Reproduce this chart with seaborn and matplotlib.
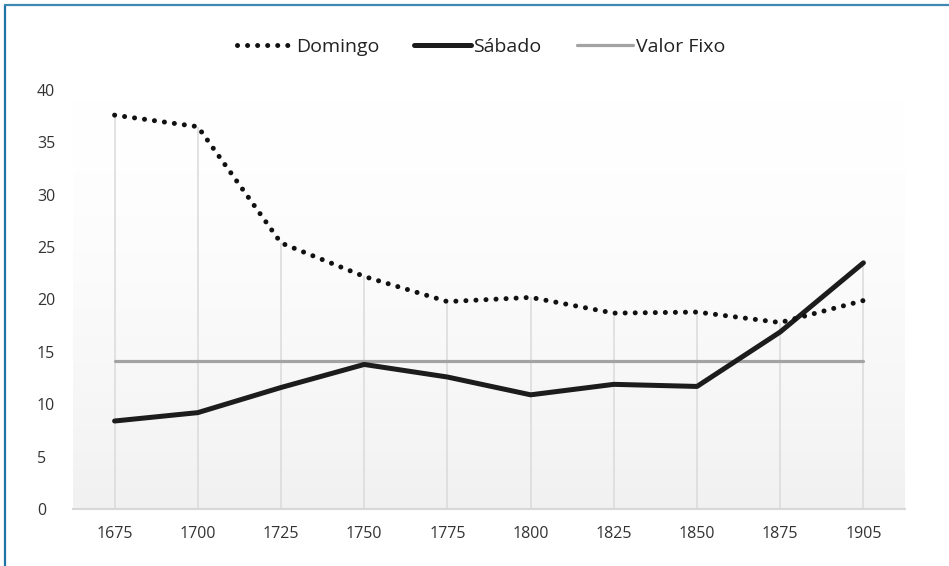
import numpy as np
import pandas as pd
import matplotlib
matplotlib.use("Agg")
import matplotlib.pyplot as plt
from matplotlib.lines import Line2D
import seaborn as sns

anos = ["1675", "1700", "1725", "1750", "1775", "1800", "1825", "1850", "1875", "1905"]
domingo = [37.6, 36.5, 25.4, 22.2, 19.8, 20.2, 18.7, 18.8, 17.8, 19.9]
sabado = [8.4, 9.2, 11.6, 13.8, 12.6, 10.9, 11.9, 11.7, 16.9, 23.5]
valor_fixo = [14.1] * len(anos)
y_ticks = [0, 5, 10, 15, 20, 25, 30, 35, 40]

sns.set_theme(style="white")
plt.rcParams["font.family"] = ["Open Sans", "DejaVu Sans"]

df = pd.DataFrame({"x": np.arange(len(anos)), "Domingo": domingo,
                   "Sábado": sabado, "Valor Fixo": valor_fixo})

DOTS = (0.01, 2.0)

fig = plt.figure(figsize=(9.49, 5.66), dpi=100)
fig.patch.set_facecolor("white")
ax = fig.add_axes([73 / 949, 1 - 509 / 566, (905 - 73) / 949, (509 - 90) / 566])
ax.set_facecolor("white")

# subtle background gradient
grad = np.linspace(0, 1, 256).reshape(-1, 1) ** 1.6
cmap = matplotlib.colors.LinearSegmentedColormap.from_list("g", ["#ffffff", "#f1f1f1"])
ax.imshow(grad, extent=[-0.5, 9.5, 0, 40], aspect="auto", cmap=cmap,
          origin="upper", zorder=0, vmin=0, vmax=1)

# vertical drop lines
tops = np.maximum(domingo, sabado)
ax.vlines(df["x"], 0, tops, color="#dadada", lw=1.1, zorder=1)

sns.lineplot(data=df, x="x", y="Valor Fixo", ax=ax, color="#a3a3a3", lw=2.3,
             zorder=2, label="Valor Fixo")
sns.lineplot(data=df, x="x", y="Sábado", ax=ax, color="#1c1c1c", lw=3.6,
             zorder=3, label="Sábado")
sns.lineplot(data=df, x="x", y="Domingo", ax=ax, color="#111111", lw=3.6,
             zorder=4, label="Domingo")
dom_line = ax.get_lines()[-1]
dom_line.set_dashes(DOTS)
dom_line.set_dash_capstyle("round")

ax.set_xlim(-0.5, 9.5)
ax.set_ylim(0, 40)
ax.set_xticks(df["x"])
ax.set_xticklabels(anos)
ax.set_yticks(y_ticks)
ax.set_xlabel("")
ax.set_ylabel("")
ax.tick_params(axis="both", length=0, labelsize=11.5, colors="#333333")
ax.tick_params(axis="x", pad=12)
ax.tick_params(axis="y", pad=26)
for lab in ax.get_yticklabels():
    lab.set_horizontalalignment("left")
for s in ["top", "right", "left"]:
    ax.spines[s].set_visible(False)
ax.spines["bottom"].set_color("#d8d8d8")
ax.spines["bottom"].set_linewidth(1.5)

h, l = ax.get_legend_handles_labels()
order = [l.index("Domingo"), l.index("Sábado"), l.index("Valor Fixo")]
leg = ax.legend([h[i] for i in order], [l[i] for i in order], loc="center",
                bbox_to_anchor=(481 / 949, 1 - 47 / 566), bbox_transform=fig.transFigure,
                ncol=3, frameon=False, fontsize=14, handlelength=2.9,
                handletextpad=0.15, columnspacing=1.8)
for t in leg.get_texts():
    t.set_color("#222222")
leg.get_lines()[0].set_dashes(DOTS)
leg.get_lines()[0].set_dash_capstyle("round")

# figure border (top & left)
fig.add_artist(Line2D([4.5 / 949, 4.5 / 949], [0, 1 - 4.5 / 566], transform=fig.transFigure,
                      color="#1f74a6", lw=1.6))
fig.add_artist(Line2D([4.5 / 949, 1], [1 - 4.5 / 566, 1 - 4.5 / 566], transform=fig.transFigure,
                      color="#3f88b3", lw=1.6))

fig.savefig("out.png", dpi=100, facecolor="white")
